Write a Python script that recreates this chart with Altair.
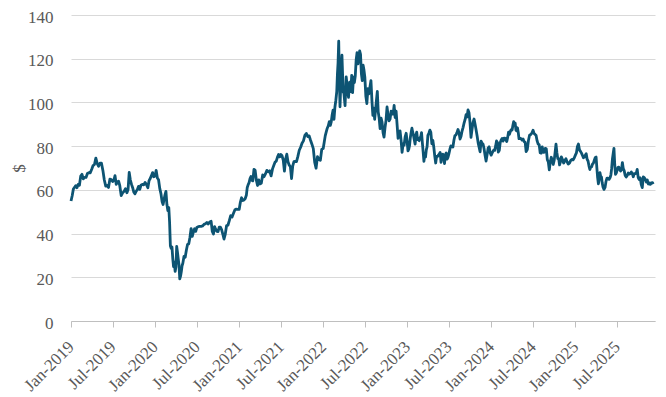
import calendar
import altair as alt
import pandas as pd

# Brent-like daily price path, a handful of readings per month
p2019 = [
    [54.9, 57.3, 60.4, 61.2, 61.9, 61.0],
    [62.5, 62.1, 66.3, 67.1, 65.0],
    [65.7, 65.7, 67.5, 67.9, 67.8],
    [69.4, 71.1, 71.6, 74.5, 72.0],
    [70.8, 72.2, 72.2, 68.9, 64.5],
    [61.7, 62.0, 61.1, 64.9, 64.7],
    [63.8, 64.4, 66.5, 62.5, 63.5, 64.0],
    [61.9, 57.4, 58.6, 59.3, 60.5],
    [58.7, 60.2, 68.0, 64.5, 62.5, 61.0],
    [58.9, 58.2, 59.4, 60.2, 61.6, 60.2],
    [62.1, 62.5, 62.3, 63.4, 62.4],
    [61.0, 64.2, 65.2, 66.5, 67.9, 66.0],
]
p2020 = [
    [66.3, 68.9, 65.4, 64.6, 60.7, 58.3],
    [54.5, 53.3, 55.5, 57.7, 59.3, 53.4, 50.5],
    [51.9, 45.3, 34.4, 33.2, 33.9, 28.7, 24.9, 26.9, 22.7],
    [24.7, 34.1, 31.5, 28.4, 25.6, 19.3, 20.5, 22.5, 25.3],
    [26.4, 29.6, 29.2, 32.5, 35.1, 35.3],
    [38.3, 42.3, 38.7, 40.8, 42.2, 41.0],
    [42.8, 43.2, 43.3, 43.3, 43.5],
    [44.2, 44.5, 45.1, 44.4, 45.3],
    [45.6, 41.0, 39.8, 43.2, 41.9, 41.0],
    [40.9, 42.9, 42.9, 41.8, 39.8, 37.5],
    [39.5, 43.6, 43.8, 45.9, 48.2],
    [47.6, 49.3, 50.9, 51.2, 51.1],
]
p2021 = [
    [51.1, 54.4, 56.4, 55.1, 55.4, 55.9],
    [57.5, 61.1, 62.4, 63.3, 65.2, 66.1, 64.4],
    [64.1, 69.4, 68.9, 64.4, 62.0, 64.6],
    [62.7, 63.0, 66.8, 66.0, 67.3],
    [68.9, 68.3, 68.7, 66.4, 69.6],
    [71.4, 72.7, 73.1, 74.9, 76.2, 75.1],
    [76.2, 75.6, 73.6, 68.6, 74.1, 76.3],
    [72.9, 71.4, 70.6, 65.2, 71.0, 72.9],
    [73.0, 72.9, 75.3, 78.1, 79.5],
    [81.3, 82.4, 84.9, 85.8, 84.4],
    [84.7, 82.7, 80.9, 78.9, 72.7],
    [69.9, 75.2, 73.9, 73.5, 78.6],
]
p2022 = [
    [78.9, 81.8, 84.7, 86.5, 88.2, 89.3, 91.2],
    [89.5, 91.1, 94.4, 96.5, 92.3, 97.9, 101.0],
    [105.0, 112.9, 118.1, 128.0, 111.1, 98.0, 107.0, 115.6, 121.6, 112.5, 104.7],
    [104.4, 98.5, 111.7, 106.6, 102.3, 109.3],
    [105.0, 112.4, 104.5, 111.6, 109.1, 112.1, 119.4, 122.8],
    [117.6, 120.6, 123.6, 122.0, 113.1, 110.0, 117.0, 114.8],
    [111.6, 102.8, 99.5, 106.3, 103.9, 107.0, 110.0],
    [100.5, 94.1, 97.4, 92.3, 96.5, 100.9, 105.1, 95.6],
    [93.0, 88.0, 92.8, 91.0, 86.2, 84.1, 88.5],
    [91.8, 97.9, 94.3, 91.6, 92.4, 96.0, 94.8],
    [94.7, 98.6, 93.1, 96.0, 89.8, 83.6, 85.4],
    [87.0, 82.7, 77.2, 81.0, 80.4, 84.2, 85.9],
]
p2023 = [
    [82.1, 77.8, 78.6, 80.3, 84.0, 86.2, 88.2, 86.4, 84.9],
    [82.8, 80.9, 85.0, 86.4, 83.0, 83.2, 82.5, 83.9],
    [84.3, 86.2, 81.6, 77.5, 73.0, 75.9, 75.0, 78.3, 79.8],
    [84.9, 85.9, 87.3, 86.3, 81.1, 82.7, 79.5],
    [75.3, 72.3, 75.3, 75.2, 75.9, 76.3, 77.1, 72.6],
    [76.1, 76.3, 74.8, 72.0, 76.1, 76.9, 74.1, 74.9],
    [76.3, 78.5, 80.1, 79.9, 79.6, 82.7, 84.9],
    [85.1, 86.2, 87.6, 86.2, 83.2, 84.5, 86.9],
    [88.6, 90.6, 92.1, 94.4, 93.3, 96.6, 95.3],
    [90.9, 84.0, 87.7, 90.9, 92.4, 90.0, 87.4],
    [84.6, 81.6, 79.5, 77.4, 82.3, 81.4, 80.9],
    [78.9, 75.8, 73.2, 76.0, 79.1, 79.7, 77.0],
]
p2024 = [
    [75.9, 76.8, 77.6, 78.3, 78.1, 80.0, 82.4, 81.7],
    [77.3, 78.0, 81.6, 82.8, 83.5, 82.3, 83.6],
    [83.6, 82.9, 82.1, 84.0, 86.4, 85.4, 86.7, 87.5],
    [87.4, 89.4, 91.2, 90.4, 90.5, 87.3, 87.0, 88.4, 86.3],
    [83.4, 83.7, 83.4, 82.8, 83.3, 82.1, 81.8],
    [77.5, 78.4, 82.6, 85.1, 85.3, 86.0],
    [87.3, 85.8, 85.4, 84.9, 82.4, 81.0, 80.7],
    [77.0, 76.8, 79.7, 77.2, 77.2, 79.0, 78.8],
    [73.8, 72.8, 69.2, 72.7, 74.9, 73.5, 71.6],
    [73.6, 77.1, 80.9, 77.0, 74.3, 74.3, 71.4, 72.8],
    [75.1, 73.9, 72.3, 73.3, 74.2, 72.8],
    [71.8, 72.2, 73.4, 73.9, 73.7, 74.6],
]
p2025 = [
    [75.9, 76.9, 79.8, 81.0, 78.3, 77.6, 76.8],
    [75.7, 74.7, 75.0, 75.8, 76.5, 74.0, 73.2],
    [71.0, 69.3, 70.4, 70.6, 71.8, 72.2, 73.6, 74.7],
    [75.0, 70.1, 65.6, 62.8, 64.8, 67.9, 66.1, 65.9, 63.1],
    [61.3, 60.2, 61.1, 64.0, 65.4, 65.4, 64.8],
    [65.6, 66.9, 69.8, 74.2, 76.7, 79.0, 71.5, 67.1, 67.7],
    [68.8, 70.2, 70.4, 69.3, 68.6, 69.2, 72.5, 69.7],
    [68.8, 66.6, 65.9, 66.6, 67.7, 67.2, 67.5],
    [68.2, 67.5, 66.0, 67.4, 67.4, 67.6, 69.4],
    [65.6, 64.7, 65.5, 62.4, 61.0, 65.9, 65.6],
    [64.8, 63.6, 64.5, 62.7, 63.2, 62.5, 63.2],
]
last_dates = ["2025-12-02", "2025-12-05"]
last_values = [63.3, 62.6]

years = [2019, 2020, 2021, 2022, 2023, 2024, 2025]
series = [p2019, p2020, p2021, p2022, p2023, p2024, p2025]
tick_dates = ["2019-01-01", "2019-07-01", "2020-01-01", "2020-07-01", "2021-01-01",
              "2021-07-01", "2022-01-01", "2022-07-01", "2023-01-01", "2023-07-01",
              "2024-01-01", "2024-07-01", "2025-01-01", "2025-07-01"]
y_ticks = [0, 20, 40, 60, 80, 100, 120, 140]

rows = []
for yr, months in zip(years, series):
    for m, vals in enumerate(months, start=1):
        ndays = calendar.monthrange(yr, m)[1]
        start = pd.Timestamp(yr, m, 1)
        for i, v in enumerate(vals):
            t = start + pd.Timedelta(days=i * ndays / len(vals))
            rows.append({"date": t.strftime("%Y-%m-%dT%H:%M:%S"), "price": v})
for d, v in zip(last_dates, last_values):
    rows.append({"date": d + "T00:00:00", "price": v})
df = pd.DataFrame(rows)

FONT = "Liberation Serif"
GREY = "#595959"

tick_vals = [alt.DateTime(year=int(s[:4]), month=int(s[5:7]), date=1) for s in tick_dates]

chart = (
    alt.Chart(df)
    .mark_line(color="#0d5473", strokeWidth=2.8, strokeJoin="round")
    .encode(
        x=alt.X(
            "date:T",
            scale=alt.Scale(domain=[alt.DateTime(year=2019, month=1, date=1),
                                    alt.DateTime(year=2025, month=12, date=13)]),
            axis=alt.Axis(
                title=None,
                values=tick_vals,
                format="%b-%Y",
                labelAngle=-45,
                labelAlign="right",
                labelBaseline="middle",
                labelPadding=17,
                labelFont=FONT,
                labelFontSize=17,
                labelColor=GREY,
                labelOverlap=False,
                labelFlush=False,
                tickSize=6,
                tickColor="#bfbfbf",
                domainColor="#bfbfbf",
                grid=False,
            ),
        ),
        y=alt.Y(
            "price:Q",
            scale=alt.Scale(domain=[0, 140], nice=False),
            axis=alt.Axis(
                title="$",
                titleFont=FONT,
                titleFontSize=17,
                titleFontWeight="normal",
                titleColor=GREY,
                titleX=-52,
                titleY=153,
                titleBaseline="middle",
                titleAlign="center",
                values=y_ticks,
                labelFont=FONT,
                labelFontSize=17,
                labelColor=GREY,
                labelPadding=18,
                labelOffset=2,
                ticks=False,
                domain=False,
                gridColor="#d9d9d9",
                gridWidth=1,
            ),
        ),
    )
    .properties(
        width=584,
        height=306,
        autosize=alt.AutoSizeParams(type="none"),
        padding={"left": 63, "top": 7, "right": 3, "bottom": 76},
    )
    .configure_view(stroke=None)
)

chart.save("out.html", embed_options={"renderer": "svg", "actions": False})
